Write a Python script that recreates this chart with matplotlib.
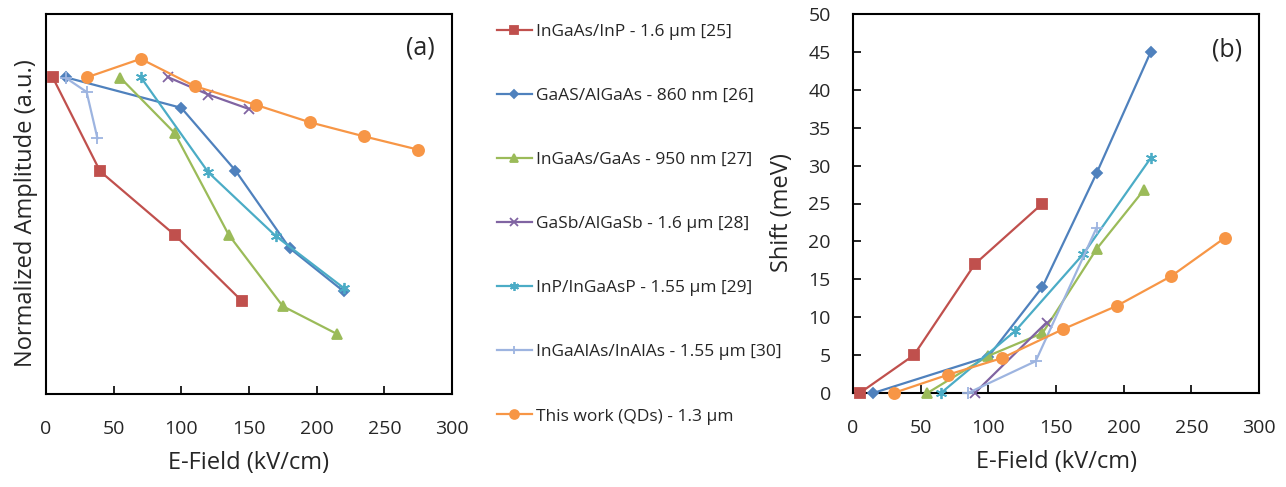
import matplotlib
matplotlib.use('Agg')
import matplotlib.pyplot as plt

plt.rcParams['font.family'] = ['Open Sans', 'DejaVu Sans']

# ---------------- data ----------------
labels = ['InGaAs/InP - 1.6 µm [25]',
          'GaAS/AlGaAs - 860 nm [26]',
          'InGaAs/GaAs - 950 nm [27]',
          'GaSb/AlGaSb - 1.6 µm [28]',
          'InP/InGaAsP - 1.55 µm [29]',
          'InGaAlAs/InAlAs - 1.55 µm [30]',
          'This work (QDs) - 1.3 µm']

# Panel (a): normalized amplitude (arbitrary units)
a_ingaas_inp_x = [5, 40, 95, 145]
a_ingaas_inp_y = [0.833, 0.586, 0.419, 0.244]
a_gaas_algaas_x = [15, 100, 140, 180, 220]
a_gaas_algaas_y = [0.833, 0.753, 0.588, 0.384, 0.270]
a_ingaas_gaas_x = [55, 95, 135, 175, 215]
a_ingaas_gaas_y = [0.832, 0.687, 0.419, 0.231, 0.158]
a_gasb_algasb_x = [90, 120, 150]
a_gasb_algasb_y = [0.834, 0.788, 0.750]
a_inp_ingaasp_x = [70, 120, 170, 220]
a_inp_ingaasp_y = [0.834, 0.583, 0.415, 0.279]
a_ingaalas_x = [15, 30, 38]
a_ingaalas_y = [0.831, 0.795, 0.673]
a_thiswork_x = [30, 70, 110, 155, 195, 235, 275]
a_thiswork_y = [0.833, 0.882, 0.810, 0.761, 0.715, 0.678, 0.643]

# Panel (b): shift (meV)
b_ingaas_inp_x = [5, 45, 90, 140]
b_ingaas_inp_y = [0, 5, 17, 25]
b_gaas_algaas_x = [15, 100, 140, 180, 220]
b_gaas_algaas_y = [0, 4.8, 14, 29, 45]
b_ingaas_gaas_x = [55, 100, 140, 180, 215]
b_ingaas_gaas_y = [0, 4.9, 7.9, 19, 26.8]
b_gasb_algasb_x = [90, 143]
b_gasb_algasb_y = [0, 9.3]
b_inp_ingaasp_x = [65, 120, 170, 220]
b_inp_ingaasp_y = [0, 8.2, 18.3, 31]
b_ingaalas_x = [85, 135, 180]
b_ingaalas_y = [0, 4.2, 21.8]
b_thiswork_x = [30, 70, 110, 155, 195, 235, 275]
b_thiswork_y = [0, 2.4, 4.6, 8.4, 11.5, 15.4, 20.5]

x_ticks = [0, 50, 100, 150, 200, 250, 300]
b_y_ticks = [0, 5, 10, 15, 20, 25, 30, 35, 40, 45, 50]

# ---------------- styles ----------------
colors = ['#C0504D', '#4F81BD', '#9BBB59', '#8064A2', '#4BACC6', '#9DB4E0', '#F79646']
markers = ['s', 'D', '^', 'x', (6, 2, 0), '+', 'o']
msizes = [7, 5, 7, 7, 8, 8, 8]

a_data = [(a_ingaas_inp_x, a_ingaas_inp_y), (a_gaas_algaas_x, a_gaas_algaas_y),
          (a_ingaas_gaas_x, a_ingaas_gaas_y), (a_gasb_algasb_x, a_gasb_algasb_y),
          (a_inp_ingaasp_x, a_inp_ingaasp_y), (a_ingaalas_x, a_ingaalas_y),
          (a_thiswork_x, a_thiswork_y)]
b_data = [(b_ingaas_inp_x, b_ingaas_inp_y), (b_gaas_algaas_x, b_gaas_algaas_y),
          (b_ingaas_gaas_x, b_ingaas_gaas_y), (b_gasb_algasb_x, b_gasb_algasb_y),
          (b_inp_ingaasp_x, b_inp_ingaasp_y), (b_ingaalas_x, b_ingaalas_y),
          (b_thiswork_x, b_thiswork_y)]

W, H = 1286, 487
fig = plt.figure(figsize=(W / 100, H / 100), dpi=100)
ax_a = fig.add_axes([46 / W, (H - 394) / H, 406 / W, 380 / H])
ax_b = fig.add_axes([853 / W, (H - 393) / H, 406 / W, 379 / H])

text_col = '#262626'
handles = []
for i in range(len(labels)):
    kw = dict(color=colors[i], lw=1.6, marker=markers[i], markersize=msizes[i],
              markerfacecolor=colors[i], markeredgecolor=colors[i], markeredgewidth=1.3,
              zorder=3 + i)
    (h,) = ax_a.plot(a_data[i][0], a_data[i][1], label=labels[i], **kw)
    ax_b.plot(b_data[i][0], b_data[i][1], clip_on=False, **kw)
    handles.append(h)

for ax in (ax_a, ax_b):
    ax.set_xlim(0, 300)
    ax.set_xticks(x_ticks)
    for s in ax.spines.values():
        s.set_linewidth(1.5)
        s.set_color('black')
    ax.tick_params(axis='x', direction='in', length=6, width=1.2, labelsize=14,
                   pad=19, labelcolor=text_col, color='black')
    ax.set_xlabel('E-Field (kV/cm)', fontsize=17, color=text_col, labelpad=9)

ax_a.set_ylim(0, 1)
ax_a.set_yticks([])
ax_a.set_ylabel('Normalized Amplitude (a.u.)', fontsize=17, color=text_col)
ax_a.yaxis.set_label_coords(-0.02, 0.476)

ax_b.set_ylim(0, 50)
ax_b.set_yticks(b_y_ticks)
ax_b.tick_params(axis='y', direction='in', length=6, width=1.2, labelsize=14,
                 pad=16, labelcolor=text_col, color='black')
ax_b.set_ylabel('Shift (meV)', fontsize=17, color=text_col)
ax_b.yaxis.set_label_coords(-0.145, 0.476)

ax_a.text(0.921, 0.911, '(a)', transform=ax_a.transAxes, fontsize=18,
          ha='center', va='center', color=text_col)
ax_b.text(0.921, 0.905, '(b)', transform=ax_b.transAxes, fontsize=18,
          ha='center', va='center', color=text_col)

fig.legend(handles=handles, labels=labels, loc='upper left',
           bbox_to_anchor=(497 / W, 1 - 24 / H), frameon=False, fontsize=12.5,
           handlelength=2.0, handletextpad=0.25, labelspacing=2.76,
           borderpad=0, borderaxespad=0, labelcolor=text_col, markerscale=0.8)

fig.savefig('out.png', dpi=100)
